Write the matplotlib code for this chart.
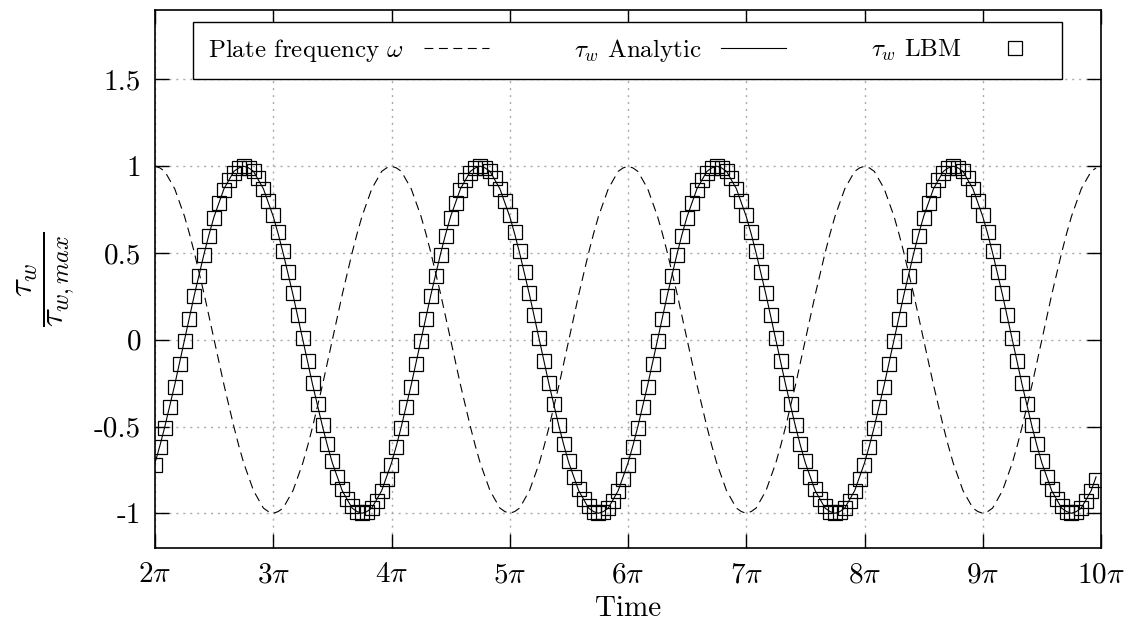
import numpy as np
import matplotlib
matplotlib.use("Agg")
import matplotlib.pyplot as plt

# ---- data (time in units of pi) ----
time_pi = np.linspace(2.0, 2.0 + 191 / 24, 192)

plate_freq = [
    1.00, 0.99, 0.97, 0.92, 0.87, 0.79, 0.71, 0.61, 0.50, 0.38, 0.26, 0.13, 0.00, -0.13, -0.26, -0.38, -0.50, -0.61, -0.71, -0.79, -0.87, -0.92, -0.97, -0.99, -1.00, -0.99, -0.97, -0.92, -0.87, -0.79, -0.71, -0.61, -0.50, -0.38, -0.26, -0.13, 0.00, 0.13, 0.26, 0.38, 0.50, 0.61, 0.71, 0.79, 0.87, 0.92, 0.97, 0.99,
    1.00, 0.99, 0.97, 0.92, 0.87, 0.79, 0.71, 0.61, 0.50, 0.38, 0.26, 0.13, 0.00, -0.13, -0.26, -0.38, -0.50, -0.61, -0.71, -0.79, -0.87, -0.92, -0.97, -0.99, -1.00, -0.99, -0.97, -0.92, -0.87, -0.79, -0.71, -0.61, -0.50, -0.38, -0.26, -0.13, 0.00, 0.13, 0.26, 0.38, 0.50, 0.61, 0.71, 0.79, 0.87, 0.92, 0.97, 0.99,
    1.00, 0.99, 0.97, 0.92, 0.87, 0.79, 0.71, 0.61, 0.50, 0.38, 0.26, 0.13, 0.00, -0.13, -0.26, -0.38, -0.50, -0.61, -0.71, -0.79, -0.87, -0.92, -0.97, -0.99, -1.00, -0.99, -0.97, -0.92, -0.87, -0.79, -0.71, -0.61, -0.50, -0.38, -0.26, -0.13, 0.00, 0.13, 0.26, 0.38, 0.50, 0.61, 0.71, 0.79, 0.87, 0.92, 0.97, 0.99,
    1.00, 0.99, 0.97, 0.92, 0.87, 0.79, 0.71, 0.61, 0.50, 0.38, 0.26, 0.13, 0.00, -0.13, -0.26, -0.38, -0.50, -0.61, -0.71, -0.79, -0.87, -0.92, -0.97, -0.99, -1.00, -0.99, -0.97, -0.92, -0.87, -0.79, -0.71, -0.61, -0.50, -0.38, -0.26, -0.13, 0.00, 0.13, 0.26, 0.38, 0.50, 0.61, 0.71, 0.79, 0.87, 0.92, 0.97, 0.99,
]

tau_analytic = [
    -0.71, -0.61, -0.50, -0.38, -0.26, -0.13, 0.00, 0.13, 0.26, 0.38, 0.50, 0.61, 0.71, 0.79, 0.87, 0.92, 0.97, 0.99, 1.00, 0.99, 0.97, 0.92, 0.87, 0.79, 0.71, 0.61, 0.50, 0.38, 0.26, 0.13, 0.00, -0.13, -0.26, -0.38, -0.50, -0.61, -0.71, -0.79, -0.87, -0.92, -0.97, -0.99, -1.00, -0.99, -0.97, -0.92, -0.87, -0.79,
    -0.71, -0.61, -0.50, -0.38, -0.26, -0.13, 0.00, 0.13, 0.26, 0.38, 0.50, 0.61, 0.71, 0.79, 0.87, 0.92, 0.97, 0.99, 1.00, 0.99, 0.97, 0.92, 0.87, 0.79, 0.71, 0.61, 0.50, 0.38, 0.26, 0.13, 0.00, -0.13, -0.26, -0.38, -0.50, -0.61, -0.71, -0.79, -0.87, -0.92, -0.97, -0.99, -1.00, -0.99, -0.97, -0.92, -0.87, -0.79,
    -0.71, -0.61, -0.50, -0.38, -0.26, -0.13, 0.00, 0.13, 0.26, 0.38, 0.50, 0.61, 0.71, 0.79, 0.87, 0.92, 0.97, 0.99, 1.00, 0.99, 0.97, 0.92, 0.87, 0.79, 0.71, 0.61, 0.50, 0.38, 0.26, 0.13, 0.00, -0.13, -0.26, -0.38, -0.50, -0.61, -0.71, -0.79, -0.87, -0.92, -0.97, -0.99, -1.00, -0.99, -0.97, -0.92, -0.87, -0.79,
    -0.71, -0.61, -0.50, -0.38, -0.26, -0.13, 0.00, 0.13, 0.26, 0.38, 0.50, 0.61, 0.71, 0.79, 0.87, 0.92, 0.97, 0.99, 1.00, 0.99, 0.97, 0.92, 0.87, 0.79, 0.71, 0.61, 0.50, 0.38, 0.26, 0.13, 0.00, -0.13, -0.26, -0.38, -0.50, -0.61, -0.71, -0.79, -0.87, -0.92, -0.97, -0.99, -1.00, -0.99, -0.97, -0.92, -0.87, -0.79,
]

tau_lbm = [
    -0.72, -0.62, -0.51, -0.39, -0.27, -0.14, -0.01, 0.12, 0.25, 0.37, 0.49, 0.60, 0.70, 0.79, 0.86, 0.92, 0.96, 0.99, 1.00, 0.99, 0.97, 0.93, 0.87, 0.80, 0.72, 0.62, 0.51, 0.39, 0.27, 0.14, 0.01, -0.12, -0.25, -0.37, -0.49, -0.60, -0.70, -0.79, -0.86, -0.92, -0.96, -0.99, -1.00, -0.99, -0.97, -0.93, -0.87, -0.80,
    -0.72, -0.62, -0.51, -0.39, -0.27, -0.14, -0.01, 0.12, 0.25, 0.37, 0.49, 0.60, 0.70, 0.79, 0.86, 0.92, 0.96, 0.99, 1.00, 0.99, 0.97, 0.93, 0.87, 0.80, 0.72, 0.62, 0.51, 0.39, 0.27, 0.14, 0.01, -0.12, -0.25, -0.37, -0.49, -0.60, -0.70, -0.79, -0.86, -0.92, -0.96, -0.99, -1.00, -0.99, -0.97, -0.93, -0.87, -0.80,
    -0.72, -0.62, -0.51, -0.39, -0.27, -0.14, -0.01, 0.12, 0.25, 0.37, 0.49, 0.60, 0.70, 0.79, 0.86, 0.92, 0.96, 0.99, 1.00, 0.99, 0.97, 0.93, 0.87, 0.80, 0.72, 0.62, 0.51, 0.39, 0.27, 0.14, 0.01, -0.12, -0.25, -0.37, -0.49, -0.60, -0.70, -0.79, -0.86, -0.92, -0.96, -0.99, -1.00, -0.99, -0.97, -0.93, -0.87, -0.80,
    -0.72, -0.62, -0.51, -0.39, -0.27, -0.14, -0.01, 0.12, 0.25, 0.37, 0.49, 0.60, 0.70, 0.79, 0.86, 0.92, 0.96, 0.99, 1.00, 0.99, 0.97, 0.93, 0.87, 0.80, 0.72, 0.62, 0.51, 0.39, 0.27, 0.14, 0.01, -0.12, -0.25, -0.37, -0.49, -0.60, -0.70, -0.79, -0.86, -0.92, -0.96, -0.99, -1.00, -0.99, -0.97, -0.93, -0.87, -0.81,
]

x_ticks = [2, 3, 4, 5, 6, 7, 8, 9, 10]
x_ticklabels = [r"$2\pi$", r"$3\pi$", r"$4\pi$", r"$5\pi$", r"$6\pi$",
                r"$7\pi$", r"$8\pi$", r"$9\pi$", r"$10\pi$"]
y_ticks = [-1, -0.5, 0, 0.5, 1, 1.5]
y_ticklabels = ["-1", "-0.5", "0", "0.5", "1", "1.5"]

# ---- style ----
plt.rcParams["font.family"] = "serif"
plt.rcParams["font.serif"] = ["cmr10"]
plt.rcParams["mathtext.fontset"] = "cm"
plt.rcParams["axes.unicode_minus"] = False
plt.rcParams["axes.formatter.use_mathtext"] = True

FS = 21

fig = plt.figure(figsize=(11.31, 6.29), dpi=100)
ax = fig.add_axes([155 / 1131, 81 / 629, 946 / 1131, 538 / 629])

ax.plot(time_pi, plate_freq, color="black", lw=0.8, linestyle=(0, (8, 5)),
        label=r"Plate frequency $\omega$")
ax.plot(time_pi, tau_analytic, color="black", lw=0.8, linestyle="-",
        label=r"$\tau_w$ Analytic")
ax.plot(time_pi, tau_lbm, linestyle="none", marker="s", markersize=10.5,
        markerfacecolor="none", markeredgecolor="black", markeredgewidth=0.9,
        label=r"$\tau_w$ LBM")

ax.set_xlim(2, 10)
ax.set_ylim(-1.2, 1.9)
ax.set_xticks(x_ticks)
ax.set_xticklabels(x_ticklabels)
ax.set_yticks(y_ticks)
ax.set_yticklabels(y_ticklabels)

ax.tick_params(direction="in", length=10, width=1, top=True, right=True,
               labelsize=FS, pad=10)
for sp in ax.spines.values():
    sp.set_linewidth(1.2)

ax.grid(True, color="#aaaaaa", linestyle=(0, (1.5, 3.5)), linewidth=1.0)
ax.set_axisbelow(True)

ax.set_xlabel("Time", fontsize=FS, labelpad=5)
ax.set_ylabel(r"$\dfrac{\tau_w}{\tau_{w,max}}$", fontsize=FS + 4, labelpad=12)

leg = ax.legend(loc="lower left", bbox_to_anchor=(0.040, 0.872, 0.919, 0.104),
                mode="expand", ncol=3, markerfirst=False, fontsize=18,
                frameon=True, fancybox=False, handlelength=2.6, borderpad=0.6,
                borderaxespad=0, framealpha=1, edgecolor="black")
leg.get_frame().set_linewidth(1.0)

fig.savefig("out.png", dpi=100)
